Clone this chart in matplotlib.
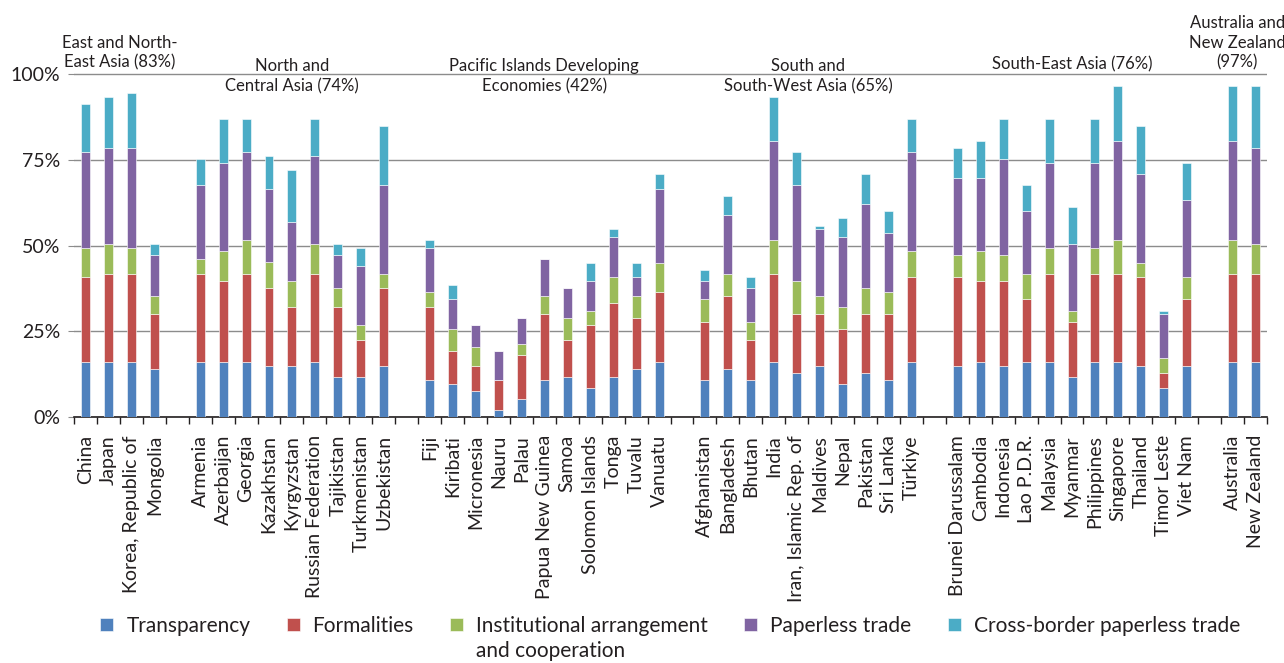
import matplotlib.pyplot as plt
import numpy as np

plt.rcParams['font.family'] = ['Lato', 'DejaVu Sans']

# Regions (share of measures implemented) and number of economies in each
regions = ['East and North-\nEast Asia (83%)', 'North and\nCentral Asia (74%)',
           'Pacific Islands Developing\nEconomies (42%)', 'South and\nSouth-West Asia (65%)',
           'South-East Asia (76%)', 'Australia and\nNew Zealand\n(97%)']
region_sizes = [4, 9, 11, 10, 11, 2]

countries = ['China', 'Japan', 'Korea, Republic of', 'Mongolia',
             'Armenia', 'Azerbaijan', 'Georgia', 'Kazakhstan', 'Kyrgyzstan',
             'Russian Federation', 'Tajikistan', 'Turkmenistan', 'Uzbekistan',
             'Fiji', 'Kiribati', 'Micronesia', 'Nauru', 'Palau', 'Papua New Guinea',
             'Samoa', 'Solomon Islands', 'Tonga', 'Tuvalu', 'Vanuatu',
             'Afghanistan', 'Bangladesh', 'Bhutan', 'India', 'Iran, Islamic Rep. of',
             'Maldives', 'Nepal', 'Pakistan', 'Sri Lanka', 'Türkiye',
             'Brunei Darussalam', 'Cambodia', 'Indonesia', 'Lao P.D.R.', 'Malaysia',
             'Myanmar', 'Philippines', 'Singapore', 'Thailand', 'Timor Leste', 'Viet Nam',
             'Australia', 'New Zealand']

# % of total score, per group of measures
transparency = [16.0, 16.0, 16.0, 14.0,
                16.0, 16.0, 16.0, 14.9, 14.9, 16.0, 11.7, 11.7, 14.9,
                10.7, 9.6, 7.5, 2.0, 5.3, 10.7, 11.7, 8.5, 11.7, 14.0, 16.0,
                10.7, 14.0, 10.7, 16.0, 12.8, 14.9, 9.6, 12.8, 10.7, 16.0,
                14.9, 16.0, 14.9, 16.0, 16.0, 11.7, 16.0, 16.0, 14.9, 8.5, 14.9,
                16.0, 16.0]
formalities = [24.7, 25.8, 25.8, 16.0,
               25.8, 23.6, 25.8, 22.6, 17.2, 25.8, 20.4, 10.7, 22.6,
               21.4, 9.6, 7.4, 8.7, 12.8, 19.3, 10.7, 18.3, 21.5, 14.9, 20.4,
               17.1, 21.3, 11.7, 25.8, 17.2, 15.1, 16.0, 17.2, 19.3, 24.7,
               25.8, 23.6, 24.7, 18.3, 25.8, 16.1, 25.8, 25.8, 25.8, 4.3, 19.4,
               25.8, 25.8]
institutional = [8.7, 8.6, 7.6, 5.4,
                 4.4, 8.7, 9.7, 7.6, 7.6, 8.6, 5.4, 4.4, 4.3,
                 4.3, 6.5, 5.5, 0.0, 3.3, 5.4, 6.5, 4.2, 7.5, 6.5, 8.6,
                 6.5, 6.5, 5.4, 9.7, 9.7, 5.4, 6.5, 7.5, 6.4, 7.6,
                 6.5, 8.7, 7.6, 7.5, 7.6, 3.2, 7.6, 9.7, 4.3, 4.3, 6.4,
                 9.7, 8.6]
paperless = [27.8, 27.9, 28.9, 11.7,
             21.4, 25.7, 25.7, 21.3, 17.1, 25.7, 9.6, 17.1, 25.8,
             13.0, 8.6, 6.4, 8.5, 7.5, 10.8, 8.6, 8.6, 11.8, 5.3, 21.4,
             5.3, 17.2, 9.7, 29.0, 27.9, 19.4, 20.4, 24.7, 17.2, 28.9,
             22.5, 21.4, 27.9, 18.2, 24.6, 19.3, 24.6, 29.0, 25.8, 12.9, 22.6,
             29.0, 27.9]
cross_border = [14.0, 15.0, 16.2, 3.2,
                7.5, 12.9, 9.7, 9.7, 15.1, 10.8, 3.2, 5.5, 17.2,
                2.1, 4.3, 0.0, 0.0, 0.0, 0.0, 0.0, 5.4, 2.3, 4.3, 4.4,
                3.3, 5.3, 3.2, 12.8, 9.6, 1.0, 5.4, 8.6, 6.4, 9.7,
                8.7, 10.8, 11.8, 7.6, 12.9, 10.8, 12.9, 16.1, 14.0, 1.0, 10.7,
                16.1, 18.3]

series = [transparency, formalities, institutional, paperless, cross_border]
series_names = ['Transparency', 'Formalities', 'Institutional arrangement',
                'Paperless trade', 'Cross-border paperless trade']
colors = ['#4F81BD', '#C0504D', '#9BBB59', '#8064A2', '#4BACC6']

# bar positions, one empty slot between regions
x = []
starts = []
pos = 0
for n in region_sizes:
    starts.append(pos)
    x.extend(range(pos, pos + n))
    pos += n + 1
x = np.array(x)
n_slots = pos - 1

text_col = '#231F20'

fig = plt.figure(figsize=(12.84, 6.63), dpi=100)
ax = fig.add_axes([0.0576, 0.371, 0.9292, 0.5277])

bottom = np.zeros(len(countries))
for vals, name, col in zip(series, series_names, colors):
    ax.bar(x, vals, 0.39, bottom=bottom, color=col, label=name,
           edgecolor='white', linewidth=0.4, zorder=3)
    bottom += np.array(vals)

ax.set_xlim(-0.5, n_slots - 0.5)
ax.set_ylim(0, 102)

ax.set_yticks([0, 25, 50, 75, 100])
ax.set_yticklabels(['0%', '25%', '50%', '75%', '100%'])
ax.grid(axis='y', color='#8C8C8C', linewidth=1.0, zorder=0)
ax.tick_params(axis='y', length=4, color='#8C8C8C', labelsize=14,
               labelcolor=text_col, pad=6)

# ticks between slots, labels at bar centres
ax.set_xticks(np.arange(-0.5, n_slots, 1.0))
ax.set_xticklabels([])
ax.set_xticks(x, minor=True)
ax.set_xticklabels(countries, minor=True, rotation=90, va='top', ha='center')
ax.tick_params(axis='x', which='major', length=5, width=1, color=text_col)
ax.tick_params(axis='x', which='minor', length=0, labelsize=14,
               labelcolor=text_col, pad=13)

for s in ['left', 'right', 'top']:
    ax.spines[s].set_visible(False)
ax.spines['bottom'].set_color(text_col)
ax.spines['bottom'].set_linewidth(1.2)

# region labels
label_style = {0: (101.0, 'bottom'), 1: (99.3, 'center'), 2: (99.3, 'center'),
               3: (99.3, 'center'), 4: (100.6, 'bottom'), 5: (101.0, 'bottom')}
for i, (reg, n) in enumerate(zip(regions, region_sizes)):
    cx = starts[i] + (n - 1) / 2
    if i == len(regions) - 1:
        cx -= 0.3
    yy, va = label_style[i]
    ax.text(cx, yy, reg, ha='center', va=va, fontsize=12, color=text_col,
            linespacing=1.3, clip_on=False)

leg = fig.legend(loc='center', bbox_to_anchor=(0.522, 0.056), ncol=5,
                 frameon=False, fontsize=15, handlelength=0.62, handleheight=0.62,
                 handletextpad=0.62, columnspacing=1.75, labelcolor=text_col)

fig.canvas.draw()
bb = leg.get_texts()[2].get_window_extent().transformed(fig.transFigure.inverted())
fig.text(bb.x0, bb.y0 - 0.007, 'and cooperation', ha='left', va='top',
         fontsize=15, color=text_col)

fig.savefig('out.png', dpi=100)
